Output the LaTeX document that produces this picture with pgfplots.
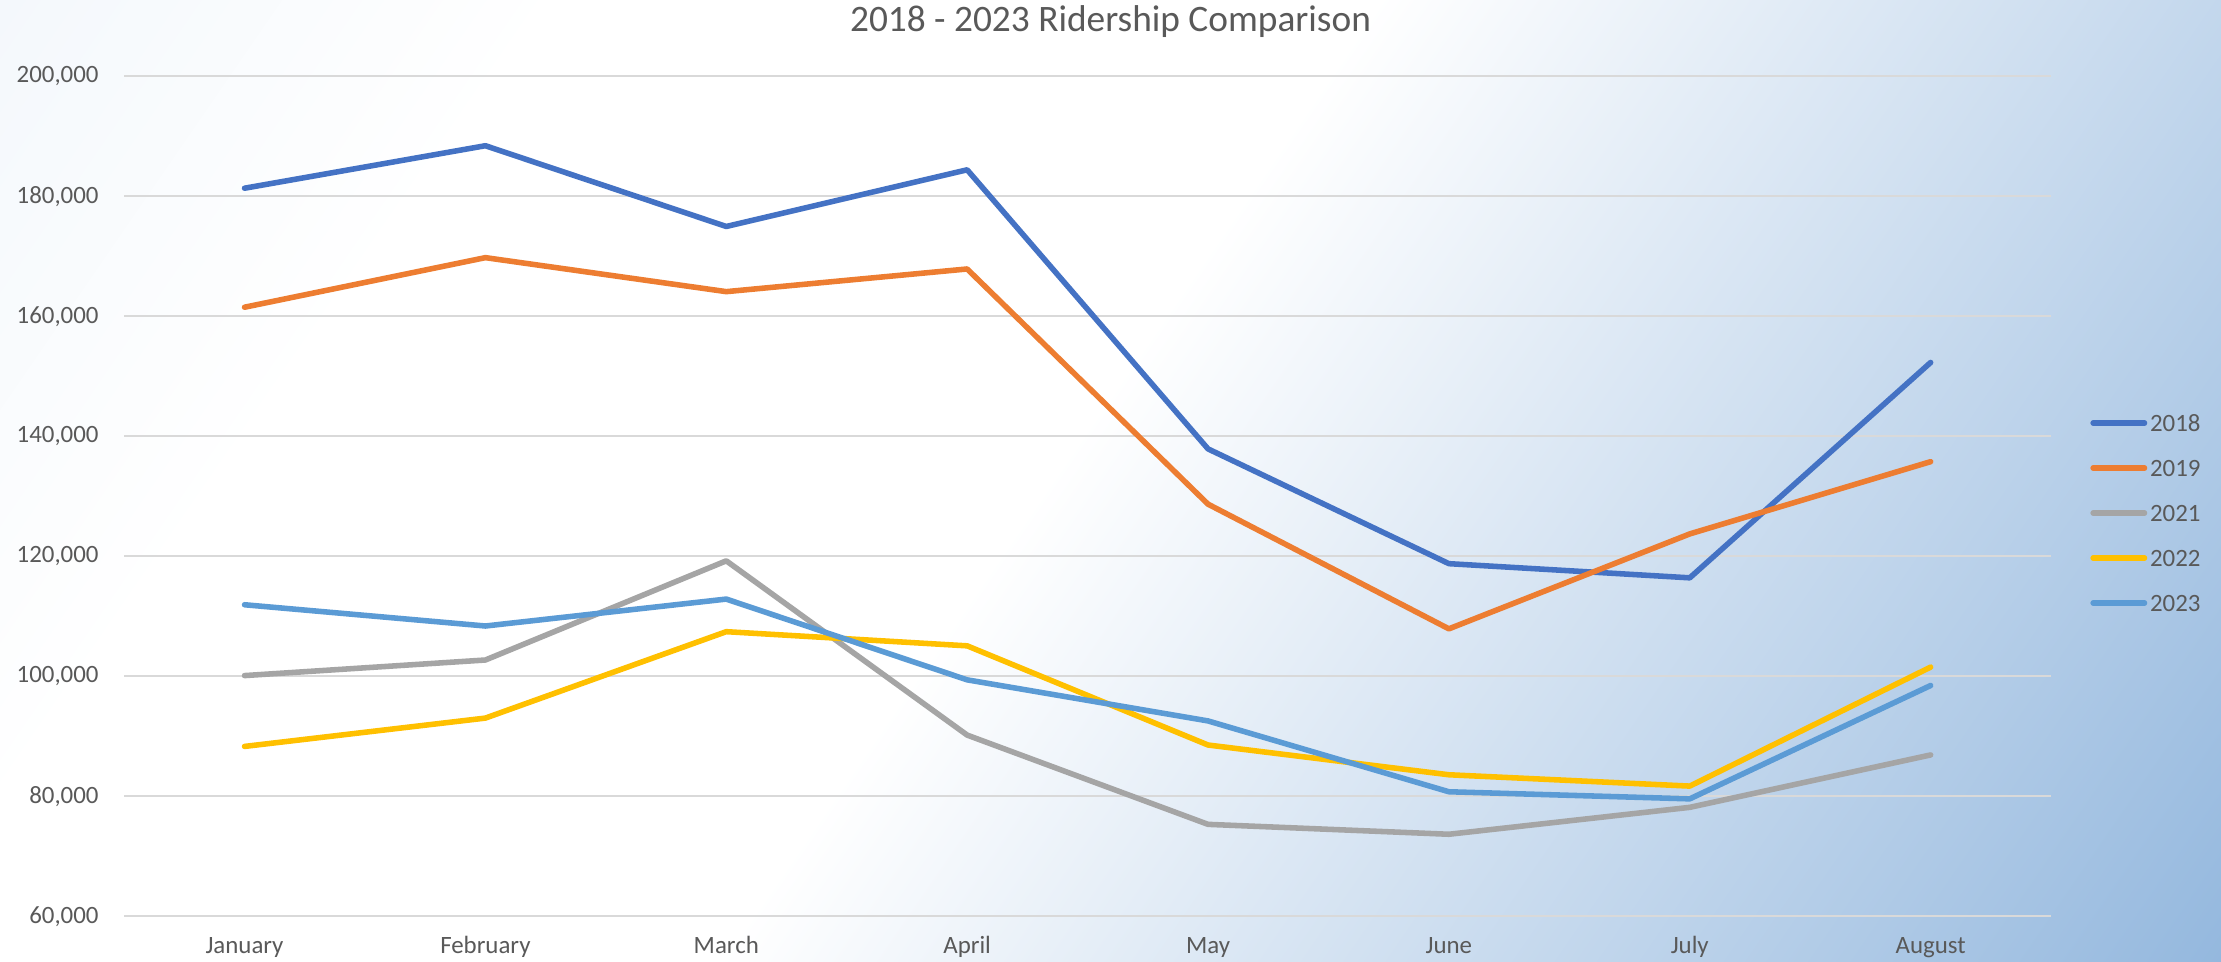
\documentclass[border=0pt]{standalone}
\usepackage{pgfplots}
\pgfplotsset{compat=1.18}
\usepackage{fontspec}
\setmainfont{Carlito}
\definecolor{c18}{HTML}{4472C4}
\definecolor{c19}{HTML}{ED7D31}
\definecolor{c21}{HTML}{A5A5A5}
\definecolor{c22}{HTML}{FFC000}
\definecolor{c23}{HTML}{5B9BD5}
\definecolor{txt}{HTML}{595959}
\definecolor{gridc}{HTML}{D9D9D9}
\pgfdeclarefunctionalshading{bg}{\pgfpointorigin}{\pgfpoint{800bp}{346.5bp}}{}{
exch 0.1974 mul exch 0.1358 mul sub 47.05 add
dup 98 sub dup 0 lt {pop 0} if
exch 40 exch sub dup 0 lt {pop 0} if 40 div
2 copy 11 mul exch 1.0 mul add 255 div 1 exch sub
3 1 roll
2 copy 7 mul exch 0.664 mul add 255 div 1 exch sub
3 1 roll
3 mul exch 0.308 mul add 255 div 1 exch sub
}
\begin{document}
\begin{tikzpicture}
\node[inner sep=0pt, outer sep=0pt, anchor=south west] at (0,0) {\pgfuseshading{bg}};
\begin{axis}[
  at={(44.7bp,16.4bp)}, anchor=south west,
  scale only axis, width=694.1bp, height=302.6bp,
  xmin=-0.5, xmax=7.5, ymin=60000, ymax=200000,
  xtick={0,...,7},
  xticklabels={January,February,March,April,May,June,July,August},
  ytick={60000,80000,100000,120000,140000,160000,180000,200000},
  yticklabels={{60,000},{80,000},{100,000},{120,000},{140,000},{160,000},{180,000},{200,000}},
  scaled y ticks=false,
  ymajorgrids,
  grid style={gridc, line width=0.75pt},
  axis line style={draw=none},
  major tick style={draw=none},
  major tick length=0pt,
  tick label style={font=\fontsize{9}{11}\selectfont, text=txt},
  yticklabel style={anchor=east, inner sep=0pt, xshift=-9bp},
  xticklabel style={anchor=base, inner sep=0pt, yshift=-13.5bp},
  legend style={draw=none, fill=none, at={(axis description cs:1.0201,0.4802)}, anchor=west,
    inner sep=0pt, row sep=10.2bp, column sep=1bp,
    nodes={inner sep=0pt, text height=6bp, text depth=0bp, text=txt, font=\fontsize{9}{11}\selectfont}},
  legend cell align=left,
  legend image code/.code={\draw[#1, line cap=round] (1bp,0bp) -- (19.5bp,0bp);},
  every axis plot/.append style={line width=2bp, line join=round, line cap=round},
]
\addplot[c18] coordinates {(0,181355) (1,188438) (2,174980) (3,184425) (4,137913) (5,118789) (6,116428) (7,152315)};
\addlegendentry{2018}
\addplot[c19] coordinates {(0,161523) (1,169786) (2,164120) (3,167898) (4,128705) (5,107928) (6,123747) (7,135788)};
\addlegendentry{2019}
\addplot[c21] coordinates {(0,100137) (1,102734) (2,119261) (3,90221) (4,75346) (5,73694) (6,78180) (7,86915)};
\addlegendentry{2021}
\addplot[c22] coordinates {(0,88332) (1,93054) (2,107456) (3,105095) (4,88568) (5,83610) (6,81721) (7,101553)};
\addlegendentry{2022}
\addplot[c23] coordinates {(0,111942) (1,108400) (2,112886) (3,99429) (4,92582) (5,80777) (6,79596) (7,98484)};
\addlegendentry{2023}
\end{axis}
\node[anchor=base, text=txt, font=\fontsize{13.5}{16}\selectfont] at (400bp,335bp) {2018 - 2023 Ridership Comparison};
\pgfresetboundingbox
\useasboundingbox (0,0) rectangle (800bp,346.5bp);
\end{tikzpicture}
\end{document}
